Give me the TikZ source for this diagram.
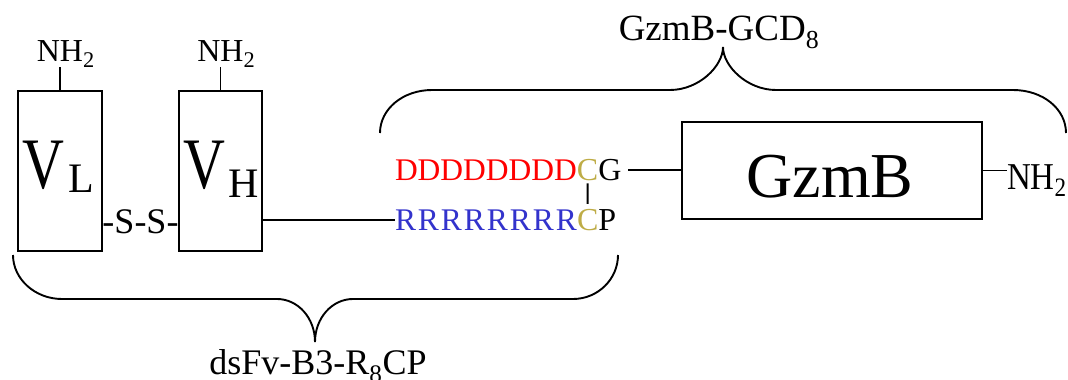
\documentclass[tikz,border=0pt]{standalone}
\usepackage{fontspec}
\setmainfont{Liberation Serif}
\definecolor{seqred}{RGB}{255,0,0}
\definecolor{seqblue}{RGB}{51,51,204}
\definecolor{cysgold}{RGB}{190,172,70}
\newcommand\setfs[1]{\fontsize{#1}{#1}\selectfont}
\begin{document}
\begin{tikzpicture}[x=1pt,y=-1pt,
  protbox/.style={draw, line width=1.9pt, inner sep=0pt},
  txt/.style={inner sep=0pt, outer sep=0pt},
  bond/.style={line width=1.9pt},
  bracepath/.style={line width=1.9pt}]
\useasboundingbox (0,0) rectangle (1068,380);

% protein domains
\node[protbox, minimum width=84pt, minimum height=160pt] (vl) at (60,171) {};
\node[protbox, minimum width=83pt, minimum height=160pt] (vh) at (220.5,171) {};
\node[protbox, minimum width=300pt, minimum height=97pt] (gzmb) at (832,170.5) {};

% domain labels
\node[txt, anchor=base west] (vltext) at (23,188)
  {\scalebox{1}[1.25]{\setfs{58}V}\kern4pt\raisebox{-4pt}{\setfs{42}L}};
\node[txt, anchor=base west] (vhtext) at (183,188)
  {\scalebox{1}[1.25]{\setfs{58}V}\kern4pt\raisebox{-9pt}{\setfs{42}H}};
\node[txt, anchor=base, font=\setfs{64}] (gzmbtext) at (830,197) {GzmB};

% N termini
\node[txt, anchor=base, font=\setfs{32}] (nhl) at (60,61) {NH\rlap{\textsubscript{2}}};
\node[txt, anchor=base, font=\setfs{32}] (nhh) at (220.5,61) {NH\rlap{\textsubscript{2}}};
\draw[bond] (vl.north) -- (vl.north |- nhl.south);
\draw[bond] (vh.north) -- (vh.north |- nhh.south);
\node[txt, anchor=base west, font=\setfs{33}] (nhr) at (1007,189)
  {\scalebox{1}[1.15]{NH\textsubscript{2}}};
\draw[bond] (gzmb.east) -- (gzmb.east -| nhr.west);

% disulfide between the variable domains
\node[txt, anchor=base, font=\setfs{36}] (ss) at (140.5,233) {-S-S-};

% peptide tails
\node[txt, anchor=base west, font=\setfs{31.5}, text=seqred] (dseq) at (395,180) {DDDDDDDD};
\node[txt, anchor=base west, font=\setfs{32}, text=cysgold] (cys1) at (dseq.base east) {C};
\node[txt, anchor=base west, font=\setfs{32}] (gly) at (cys1.base east) {G};
\node[txt, anchor=base west, font=\setfs{31.5}, text=seqblue] (rseq) at (395,230)
  {\makebox[182pt][s]{R\hfil R\hfil R\hfil R\hfil R\hfil R\hfil R\hfil R}};
\node[txt, anchor=base west, font=\setfs{32}, text=cysgold] (cys2) at (rseq.base east) {C};
\node[txt, anchor=base west, font=\setfs{32}] (pro) at (cys2.base east) {P};

\draw[bond, shorten <=3pt, shorten >=5pt] (cys1.south) -- (cys2.north);
\draw[bond] (rseq.west -| vh.east) -- (rseq.west);
\draw[bond, shorten <=7pt] (gly.east) -- (gly.east -| gzmb.west);

% braces
\draw[bracepath] (380,133) .. controls (380,109) and (403,90) .. (432,90) -- (670,90)
  .. controls (699,90) and (723,66) .. (723,47)
  .. controls (723,66) and (747,90) .. (776,90) -- (1013,90)
  .. controls (1043,90) and (1066,109) .. (1066,133);
\draw[bracepath] (13,255) .. controls (13,279) and (35,299) .. (62,299) -- (277,299)
  .. controls (298,299) and (315,318) .. (315,342)
  .. controls (315,318) and (332,299) .. (353,299) -- (573,299)
  .. controls (598,299) and (618,279) .. (618,255);

\node[txt, anchor=base, font=\setfs{37}] (toplabel) at (719,40) {GzmB-GCD\textsubscript{8}};
\node[txt, anchor=base, font=\setfs{36}] (botlabel) at (318,374) {dsFv-B3-R\textsubscript{8}CP};
\end{tikzpicture}
\end{document}
